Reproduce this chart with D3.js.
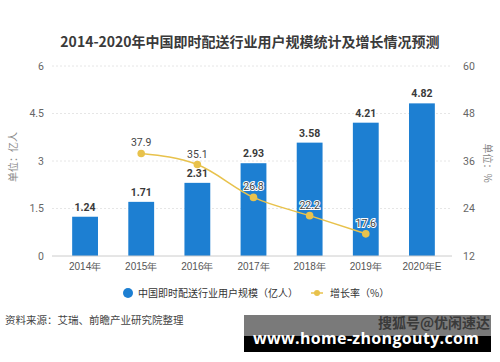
<!DOCTYPE html>
<html>
<head>
<meta charset="utf-8">
<script src="https://cdn.jsdelivr.net/npm/d3@7"></script>
<style>
  body { margin: 0; background: #fff; }
  svg { display: block; font-family: "Noto Sans CJK SC", "Microsoft YaHei", sans-serif; }
</style>
</head>
<body>
<svg id="chart"></svg>
<script>
const years = ['2014年', '2015年', '2016年', '2017年', '2018年', '2019年', '2020年E'];
const users = [1.24, 1.71, 2.31, 2.93, 3.58, 4.21, 4.82];
const growth = [null, 37.9, 35.1, 26.8, 22.2, 17.6, null];
const leftTicks = [0, 1.5, 3, 4.5, 6];
const rightTicks = [12, 24, 36, 48, 60];

const w = 500, h = 362;
const margin = {left: 57, right: 50, top: 66, bottom: 106};
const barColor = '#1d7fd2', lineColor = '#e8c24c';

const svg = d3.select('#chart').attr('width', w).attr('height', h);

const x = d3.scaleBand()
    .domain(years)
    .range([margin.left, w - margin.right])
    .paddingInner(0.54)
    .paddingOuter(0.27);

const yL = d3.scaleLinear().domain([0, 6]).range([h - margin.bottom, margin.top]);
const yR = d3.scaleLinear().domain([12, 60]).range([h - margin.bottom, margin.top]);

// title
svg.append('text')
    .attr('x', 250).attr('y', 47)
    .attr('text-anchor', 'middle')
    .attr('font-size', '14px').attr('font-weight', 'bold')
    .attr('fill', '#3a3a3a')
    .text('2014-2020年中国即时配送行业用户规模统计及增长情况预测');

// grid
svg.append('g').selectAll('line')
    .data(leftTicks.slice(1))
    .join('line')
    .attr('x1', 52).attr('x2', 452)
    .attr('y1', d => yL(d)).attr('y2', d => yL(d))
    .attr('stroke', '#e6e6e6')
    .attr('stroke-dasharray', '2,2');

// left axis
const gl = svg.append('g')
    .attr('transform', `translate(${margin.left - 6},0)`)
    .call(d3.axisLeft(yL).tickValues(leftTicks).tickSize(0).tickPadding(7).tickFormat(d3.format('')));
gl.select('.domain').remove();
gl.selectAll('text').attr('fill', '#666').attr('font-size', '10.5px')
    .attr('font-family', 'Roboto, "DejaVu Sans", sans-serif');

// right axis
const gr = svg.append('g')
    .attr('transform', `translate(${w - margin.right + 7},0)`)
    .call(d3.axisRight(yR).tickValues(rightTicks).tickSize(0).tickPadding(6));
gr.select('.domain').remove();
gr.selectAll('text').attr('fill', '#666').attr('font-size', '10.5px')
    .attr('font-family', 'Roboto, "DejaVu Sans", sans-serif');

// axis titles
svg.append('text')
    .attr('transform', 'translate(17,157) rotate(-90)')
    .attr('text-anchor', 'middle')
    .attr('font-size', '10px').attr('fill', '#888')
    .text('单位：亿人');
svg.append('text')
    .attr('transform', 'translate(484,163) rotate(90)')
    .attr('text-anchor', 'middle')
    .attr('font-size', '10px').attr('fill', '#888')
    .text('单位：%');

// bars
svg.append('g').selectAll('rect')
    .data(users)
    .join('rect')
    .attr('x', (d, i) => x(years[i]))
    .attr('y', d => yL(d))
    .attr('width', x.bandwidth())
    .attr('height', d => yL(0) - yL(d))
    .attr('fill', barColor);

svg.append('g').selectAll('text')
    .data(users)
    .join('text')
    .attr('x', (d, i) => x(years[i]) + x.bandwidth() / 2)
    .attr('y', d => yL(d) - 6)
    .attr('text-anchor', 'middle')
    .attr('font-size', '10.5px').attr('font-weight', 'bold')
    .attr('font-family', 'Roboto, "DejaVu Sans", sans-serif')
    .attr('fill', '#3a3a3a')
    .text(d => d.toFixed(2));

// x axis
const gx = svg.append('g')
    .attr('transform', `translate(0,${h - margin.bottom})`)
    .call(d3.axisBottom(x).tickSize(0).tickPadding(7));
gx.select('.domain').attr('stroke', '#ccc').attr('d', `M52,0H452`);
gx.selectAll('text').attr('fill', '#555').attr('font-size', '10px');

// growth line
const pts = growth.map((v, i) => ({year: years[i], v})).filter(d => d.v !== null);
const line = d3.line()
    .x(d => x(d.year) + x.bandwidth() / 2)
    .y(d => yR(d.v))
    .curve(d3.curveMonotoneX);

svg.append('path')
    .datum(pts)
    .attr('d', line)
    .attr('fill', 'none')
    .attr('stroke', lineColor)
    .attr('stroke-width', 1.5);

svg.append('g').selectAll('circle')
    .data(pts)
    .join('circle')
    .attr('cx', d => x(d.year) + x.bandwidth() / 2)
    .attr('cy', d => yR(d.v))
    .attr('r', 3.8)
    .attr('fill', lineColor);

svg.append('g').selectAll('text')
    .data(pts)
    .join('text')
    .attr('x', d => x(d.year) + x.bandwidth() / 2)
    .attr('y', d => yR(d.v) - 7)
    .attr('text-anchor', 'middle')
    .attr('font-size', '10.5px')
    .attr('font-family', 'Roboto, "DejaVu Sans", sans-serif')
    .attr('fill', '#444')
    .attr('stroke', '#fff').attr('stroke-width', 2)
    .attr('paint-order', 'stroke')
    .text(d => d.v.toFixed(1));

// legend
const lg = svg.append('g').attr('transform', 'translate(0,293)');
lg.append('circle').attr('cx', 128).attr('cy', 0).attr('r', 5).attr('fill', barColor);
lg.append('text').attr('x', 138).attr('y', 3.5)
    .attr('font-size', '10px').attr('fill', '#333')
    .text('中国即时配送行业用户规模（亿人）');
lg.append('line').attr('x1', 311).attr('x2', 323).attr('y1', 0).attr('y2', 0)
    .attr('stroke', lineColor).attr('stroke-width', 1.5);
lg.append('circle').attr('cx', 317).attr('cy', 0).attr('r', 3).attr('fill', lineColor);
lg.append('text').attr('x', 330).attr('y', 3.5)
    .attr('font-size', '10px').attr('fill', '#333')
    .text('增长率（%）');

// source
svg.append('text')
    .attr('x', 5).attr('y', 324)
    .attr('font-size', '10.5px').attr('fill', '#444')
    .text('资料来源：艾瑞、前瞻产业研究院整理');

// watermark
const wm = svg.append('g');
wm.append('rect').attr('x', 244).attr('y', 315).attr('width', 247).attr('height', 22).attr('fill', '#7a7a7a');
wm.append('rect').attr('x', 244).attr('y', 336).attr('width', 247).attr('height', 16).attr('fill', '#000');
wm.append('text').attr('x', 490).attr('y', 328)
    .attr('text-anchor', 'end')
    .attr('font-size', '14px').attr('font-weight', 'bold')
    .attr('fill', '#3a3a3a')
    .text('搜狐号@优闲速达');
wm.append('text').attr('x', 253).attr('y', 344)
    .attr('textLength', 226)
    .attr('font-size', '16px').attr('font-weight', 'bold')
    .attr('font-family', '"Open Sans", "DejaVu Sans", sans-serif')
    .attr('fill', '#fff')
    .text('www.home-zhongouty.com');
</script>
</body>
</html>
